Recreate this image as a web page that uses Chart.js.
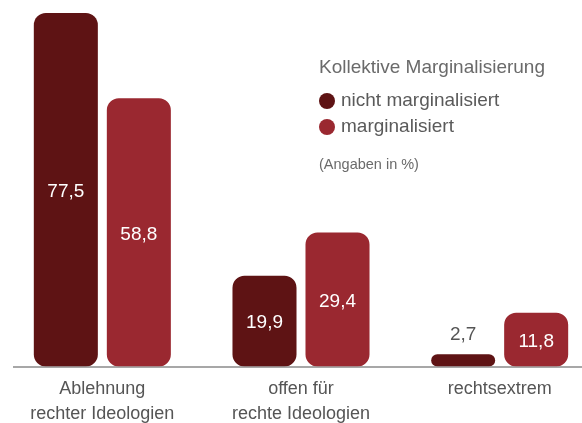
<!DOCTYPE html>
<html>
<head>
<meta charset="utf-8">
<script src="https://cdn.jsdelivr.net/npm/chart.js@4"></script>
<style>
  html, body { margin: 0; padding: 0; background: #fff; overflow: hidden; }
  #wrap { position: relative; width: 600px; height: 423px; }
</style>
</head>
<body>
<div id="wrap"><canvas id="chart"></canvas></div>
<script>
// data
const categories = [['Ablehnung', 'rechter Ideologien'], ['offen für', 'rechte Ideologien'], 'rechtsextrem'];
const seriesNames = ['nicht marginalisiert', 'marginalisiert'];
const nichtMarginalisiert = [77.5, 19.9, 2.7];
const marginalisiert = [58.8, 29.4, 11.8];
const legendTitle = 'Kollektive Marginalisierung';
const note = '(Angaben in %)';

const colors = ['#5e1314', '#9a2830'];
const FONT = '"Liberation Sans", Arial, sans-serif';

function fmt(v) {
  return v.toFixed(1).replace('.', ',');
}

// value labels inside the bars (or above when the bar is too short)
const valueLabels = {
  id: 'valueLabels',
  afterDatasetsDraw(chart) {
    const ctx = chart.ctx;
    ctx.save();
    ctx.font = '19px ' + FONT;
    ctx.textAlign = 'center';
    ctx.textBaseline = 'middle';
    chart.data.datasets.forEach((ds, i) => {
      chart.getDatasetMeta(i).data.forEach((bar, j) => {
        const h = bar.base - bar.y;
        if (h > 30) {
          ctx.fillStyle = '#fff';
          ctx.fillText(fmt(ds.data[j]), bar.x, bar.y + h / 2 + 2);
        } else {
          ctx.fillStyle = '#555';
          ctx.fillText(fmt(ds.data[j]), bar.x, bar.y - 20);
        }
      });
    });
    ctx.restore();
  }
};

// baseline + legend block drawn on the canvas
const extras = {
  id: 'extras',
  beforeDatasetsDraw(chart) {
    const ctx = chart.ctx;
    const y = chart.scales.y.getPixelForValue(0);
    ctx.save();
    ctx.strokeStyle = '#8a8a8a';
    ctx.lineWidth = 1.5;
    ctx.beginPath();
    ctx.moveTo(13, y + 0.5);
    ctx.lineTo(chart.width, y + 0.5);
    ctx.stroke();
    ctx.restore();
  },
  afterDraw(chart) {
    const ctx = chart.ctx;
    ctx.save();
    ctx.textAlign = 'left';
    ctx.textBaseline = 'middle';
    ctx.fillStyle = '#6a6a6a';
    ctx.font = '19px ' + FONT;
    ctx.fillText(legendTitle, 319, 68);
    seriesNames.forEach((name, i) => {
      const cy = 101 + i * 26;
      ctx.fillStyle = colors[i];
      ctx.beginPath();
      ctx.arc(327, cy, 8, 0, Math.PI * 2);
      ctx.fill();
      ctx.fillStyle = '#5a5a5a';
      ctx.fillText(name, 341, cy);
    });
    ctx.fillStyle = '#6a6a6a';
    ctx.font = '14.5px ' + FONT;
    ctx.fillText(note, 319, 165);
    ctx.restore();
  }
};

new Chart(document.getElementById('chart'), {
  type: 'bar',
  data: {
    labels: categories,
    datasets: [
      { label: seriesNames[0], data: nichtMarginalisiert, backgroundColor: colors[0] },
      { label: seriesNames[1], data: marginalisiert, backgroundColor: colors[1] }
    ]
  },
  options: {
    responsive: true,
    maintainAspectRatio: false,
    animation: false,
    layout: { padding: { left: 3, right: 1, top: 0, bottom: -14 } },
    datasets: {
      bar: {
        categoryPercentage: 0.735,
        barPercentage: 0.877,
        borderRadius: 12,
        borderSkipped: false
      }
    },
    plugins: {
      legend: { display: false },
      tooltip: { enabled: false }
    },
    scales: {
      x: {
        grid: { display: false, drawTicks: false },
        border: { display: false },
        ticks: {
          padding: 10,
          color: '#555',
          font: { family: FONT, size: 18, lineHeight: 1.4 }
        }
      },
      y: {
        display: false,
        min: 0,
        max: 80.35
      }
    }
  },
  plugins: [valueLabels, extras]
});
</script>
</body>
</html>
